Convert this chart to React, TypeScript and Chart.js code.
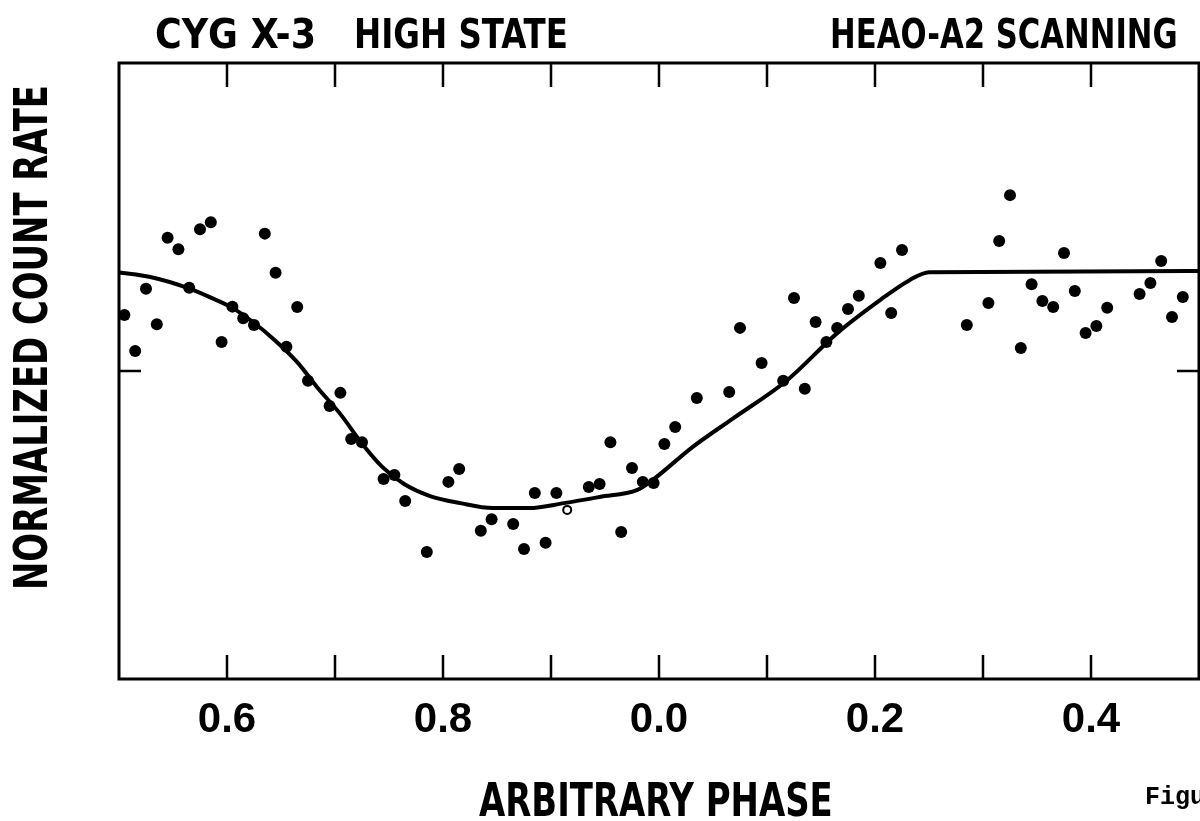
import React, { useEffect, useLayoutEffect, useRef, useState } from "react";
import { Chart, registerables } from "chart.js";

Chart.register(...registerables);

const FONT = "'Liberation Sans Narrow', 'DejaVu Sans Condensed', 'Roboto', sans-serif";
const TICK_FONT = "'Liberation Sans', Arial, sans-serif";
const MONO = "'Liberation Mono', 'DejaVu Sans Mono', monospace";

// x axis (phase), 0.5 .. 1.5 shown as 0.5 .. 0.0 .. 0.5
const TICK_VALUES = [0.6, 0.8, 1.0, 1.2, 1.4];
const TICK_LABELS = ["0.6", "0.8", "0.0", "0.2", "0.4"];
const MINOR_TICKS = [0.6, 0.7, 0.8, 0.9, 1.0, 1.1, 1.2, 1.3, 1.4];
const Y_TICKS = [1.0];

// measured points (filled)
const PHASE = [
  0.505, 0.515, 0.525, 0.535, 0.545, 0.555, 0.565, 0.575, 0.585, 0.595,
  0.605, 0.615, 0.625, 0.635, 0.645, 0.655, 0.665, 0.675, 0.695, 0.705,
  0.715, 0.725, 0.745, 0.755, 0.765, 0.785, 0.805, 0.815, 0.835, 0.845,
  0.865, 0.875, 0.885, 0.895, 0.905, 0.935, 0.945, 0.955, 0.965, 0.975,
  0.985, 0.995, 1.005, 1.015, 1.035, 1.065, 1.075, 1.095, 1.115, 1.125,
  1.135, 1.145, 1.155, 1.165, 1.175, 1.185, 1.205, 1.215, 1.225, 1.285,
  1.305, 1.315, 1.325, 1.335, 1.345, 1.355, 1.365, 1.375, 1.385, 1.395,
  1.405, 1.415, 1.445, 1.455, 1.465, 1.475, 1.485,
];
const RATE = [
  1.182, 1.065, 1.267, 1.152, 1.433, 1.395, 1.27, 1.46, 1.483, 1.094,
  1.209, 1.171, 1.149, 1.446, 1.319, 1.079, 1.208, 0.968, 0.886, 0.929,
  0.779, 0.769, 0.649, 0.662, 0.578, 0.412, 0.64, 0.682, 0.481, 0.519,
  0.503, 0.422, 0.604, 0.442, 0.604, 0.623, 0.633, 0.769, 0.477, 0.685,
  0.64, 0.636, 0.763, 0.818, 0.912, 0.932, 1.14, 1.026, 0.968, 1.237,
  0.942, 1.159, 1.094, 1.14, 1.201, 1.244, 1.351, 1.188, 1.393, 1.149,
  1.221, 1.422, 1.571, 1.075, 1.282, 1.227, 1.208, 1.383, 1.26, 1.123,
  1.146, 1.205, 1.25, 1.286, 1.357, 1.175, 1.24,
];

// the one open-circle point
const OPEN_PHASE = [0.915];
const OPEN_RATE = [0.549];

// smooth fitted light curve
const FIT_PHASE = [
  0.5, 0.529, 0.564, 0.584, 0.605, 0.624, 0.644, 0.665, 0.684, 0.705,
  0.724, 0.744, 0.764, 0.788, 0.816, 0.846, 0.88, 0.912, 0.945, 0.98,
  0.994, 1.031, 1.069, 1.119, 1.165, 1.205, 1.232, 1.25, 1.5,
];
const FIT_RATE = [
  1.32, 1.305, 1.269, 1.24, 1.205, 1.159, 1.101, 1.029, 0.945, 0.86,
  0.769, 0.688, 0.633, 0.594, 0.571, 0.555, 0.555, 0.571, 0.591, 0.614,
  0.646, 0.753, 0.847, 0.971, 1.123, 1.231, 1.295, 1.321, 1.325,
];

const framePlugin = {
  id: "frame",
  beforeDatasetsDraw(chart: any) {
    const { ctx, chartArea: a, scales } = chart;
    const xs = scales.x;
    const ys = scales.y;
    ctx.save();
    ctx.strokeStyle = "#000";
    ctx.lineWidth = 3;
    ctx.strokeRect(a.left, a.top, a.right - a.left, a.bottom - a.top);
    ctx.lineWidth = 2.5;
    ctx.beginPath();
    for (const v of MINOR_TICKS) {
      const px = xs.getPixelForValue(v);
      ctx.moveTo(px, a.top);
      ctx.lineTo(px, a.top + 24);
      ctx.moveTo(px, a.bottom);
      ctx.lineTo(px, a.bottom - 24);
    }
    for (const v of Y_TICKS) {
      const py = ys.getPixelForValue(v);
      ctx.moveTo(a.left, py);
      ctx.lineTo(a.left + 22, py);
      ctx.moveTo(a.right, py);
      ctx.lineTo(a.right - 22, py);
    }
    ctx.stroke();
    ctx.restore();
  },
};

type FitProps = {
  text: string;
  left: number;
  top: number;
  width?: number;
  size: number;
  rotate?: boolean;
  family?: string;
  weight?: string | number;
};

function FitText(p: FitProps) {
  const ref = useRef<HTMLSpanElement>(null);
  const [sx, setSx] = useState(1);
  useLayoutEffect(() => {
    if (!p.width || !ref.current) return;
    const w = ref.current.offsetWidth;
    if (w > 0) setSx(p.width / w);
  }, [p.width, p.text]);
  const t = p.rotate ? `rotate(-90deg) scaleX(${sx})` : `scaleX(${sx})`;
  return (
    <span
      ref={ref}
      style={{
        position: "absolute",
        left: p.left,
        top: p.top,
        fontFamily: p.family || FONT,
        fontSize: p.size,
        fontWeight: (p.weight as any) ?? "bold",
        lineHeight: 1,
        whiteSpace: "pre",
        transformOrigin: "0 0",
        transform: t,
        color: "#000",
      }}
    >
      {p.text}
    </span>
  );
}

export default function App() {
  const canvasRef = useRef<HTMLCanvasElement>(null);

  useEffect(() => {
    const canvas = canvasRef.current;
    if (!canvas) return;
    const points = PHASE.map((x, i) => ({ x, y: RATE[i] }));
    const open = OPEN_PHASE.map((x, i) => ({ x, y: OPEN_RATE[i] }));
    const fit = FIT_PHASE.map((x, i) => ({ x, y: FIT_RATE[i] }));
    const chart = new Chart(canvas, {
      type: "scatter",
      data: {
        datasets: [
          {
            label: "fit",
            data: fit,
            showLine: true,
            borderColor: "#000",
            borderWidth: 4,
            pointRadius: 0,
            cubicInterpolationMode: "monotone",
            clip: false as any,
          },
          {
            label: "data",
            data: points,
            pointRadius: 6,
            pointBackgroundColor: "#000",
            pointBorderColor: "#000",
            pointBorderWidth: 0,
            clip: false as any,
          },
          {
            label: "open",
            data: open,
            pointRadius: 4,
            pointBackgroundColor: "#fff",
            pointBorderColor: "#000",
            pointBorderWidth: 2,
            clip: false as any,
          },
        ],
      } as any,
      options: {
        animation: false,
        responsive: false,
        devicePixelRatio: 1,
        events: [],
        layout: { autoPadding: false, padding: { top: 63, right: 1, left: 0, bottom: 0 } },
        plugins: {
          legend: { display: false },
          tooltip: { enabled: false },
          title: { display: false },
        },
        scales: {
          x: {
            type: "linear",
            min: 0.5,
            max: 1.5,
            grid: { display: false },
            border: { display: false },
            afterFit: (s: any) => {
              s.height = 142;
              s.paddingLeft = 0;
              s.paddingRight = 0;
            },
            afterBuildTicks: (s: any) => {
              s.ticks = TICK_VALUES.map((v) => ({ value: v }));
            },
            ticks: {
              autoSkip: false,
              maxRotation: 0,
              minRotation: 0,
              padding: 12,
              color: "#000",
              font: { family: TICK_FONT, size: 42, weight: "bold", lineHeight: 1 },
              callback: (v: any) => {
                const i = TICK_VALUES.findIndex((t) => Math.abs(t - Number(v)) < 1e-6);
                return i >= 0 ? TICK_LABELS[i] : "";
              },
            },
          },
          y: {
            type: "linear",
            min: 0,
            max: 2,
            grid: { display: false },
            border: { display: false },
            ticks: { display: false },
            afterFit: (s: any) => {
              s.width = 119;
            },
          },
        },
      } as any,
      plugins: [framePlugin],
    });
    return () => chart.destroy();
  }, []);

  return (
    <div
      style={{
        position: "absolute",
        left: 0,
        top: 0,
        width: 1200,
        height: 821,
        overflow: "hidden",
        background: "#fff",
      }}
    >
      <canvas
        ref={canvasRef}
        width={1200}
        height={821}
        style={{ position: "absolute", left: 0, top: 0, width: 1200, height: 821 }}
      />
      <FitText text="CYG X-3" left={155} top={14} width={161} size={40} />
      <FitText text="HIGH STATE" left={354} top={14} width={214} size={40} />
      <FitText text="HEAO-A2 SCANNING" left={830} top={14} width={348} size={40} />
      <FitText text="ARBITRARY PHASE" left={479} top={777} width={354} size={46} />
      <FitText text="NORMALIZED COUNT RATE" left={8} top={590} width={505} size={46} rotate />
      <FitText text="Figure" left={1145} top={785} size={25} family={MONO} />
    </div>
  );
}
